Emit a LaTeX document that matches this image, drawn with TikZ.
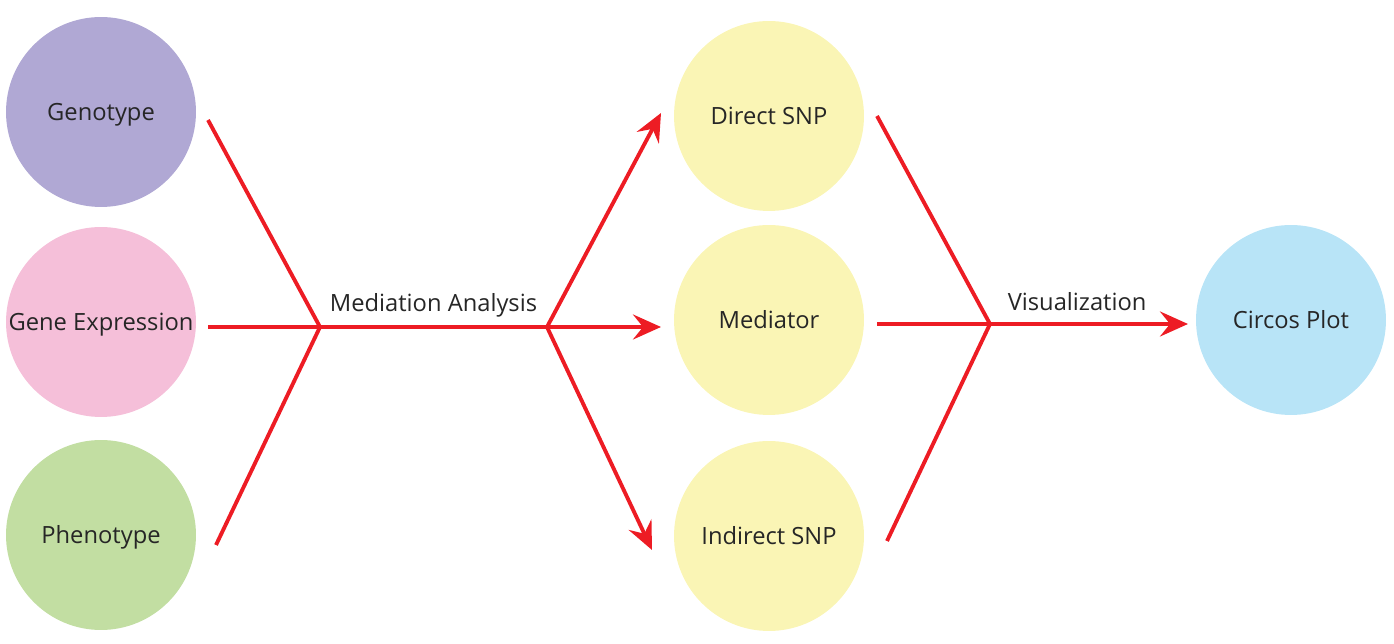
\documentclass[tikz,border=0pt]{standalone}
\usepackage{fontspec}
\setmainfont{Open Sans}
\usetikzlibrary{arrows.meta}

\definecolor{flowred}{HTML}{ED1C24}
\definecolor{genopurple}{HTML}{B0A8D4}
\definecolor{exprpink}{HTML}{F5BFD9}
\definecolor{phenogreen}{HTML}{C2DEA2}
\definecolor{snpyellow}{HTML}{FAF5B5}
\definecolor{circosblue}{HTML}{B8E4F7}

\tikzset{
  bubble/.style = {circle, draw=none, minimum size=3.8cm, inner sep=0pt,
    align=center, text=black!85, text height=2ex, text depth=0.1ex,
    font=\fontsize{13.5}{16}\selectfont},
  flow/.style = {draw=flowred, line width=2.2pt},
  flowarrow/.style = {flow, -{Stealth[length=0.56cm, width=0.5cm, inset=0.2cm]}},
  steplabel/.style = {text=black!85, font=\fontsize{13.5}{16}\selectfont}
}

\begin{document}
\begin{tikzpicture}[x=0.02cm, y=-0.02cm]
\useasboundingbox (0,0) rectangle (1394,644);

\node [bubble, fill=genopurple] (genotype) at (101,112) {Genotype};
\node [bubble, fill=exprpink] (expression) at (101,322) {Gene Expression};
\node [bubble, fill=phenogreen] (phenotype) at (101,535) {Phenotype};
\node [bubble, fill=snpyellow] (direct) at (769,116) {Direct SNP};
\node [bubble, fill=snpyellow] (mediator) at (769,320) {Mediator};
\node [bubble, fill=snpyellow] (indirect) at (769,536) {Indirect SNP};
\node [bubble, fill=circosblue] (circos) at (1291,320) {Circos Plot};

\coordinate (geno-out) at (208,120);
\coordinate (expr-out) at (208,327);
\coordinate (pheno-out) at (216,545);
\coordinate (merge) at (320,327);
\coordinate (split) at (547,327);
\coordinate (direct-in) at (661,113);
\coordinate (mediator-in) at (661,327);
\coordinate (indirect-in) at (652,550);

\coordinate (direct-out) at (877,116);
\coordinate (mediator-out) at (877,324);
\coordinate (indirect-out) at (887,541);
\coordinate (gather) at (990,324);
\coordinate (circos-in) at (1188,324);

\draw [flow] (geno-out) -- (merge);
\draw [flow] (expr-out) -- (merge);
\draw [flow] (pheno-out) -- (merge);
\draw [flow] (merge) -- node [steplabel, above=1pt] (mediation) {Mediation Analysis} (split);
\draw [flowarrow] (split) -- (direct-in);
\draw [flowarrow] (split) -- (mediator-in);
\draw [flowarrow] (split) -- (indirect-in);

\draw [flow] (direct-out) -- (gather);
\draw [flow] (mediator-out) -- (gather);
\draw [flow] (indirect-out) -- (gather);
\draw [flowarrow] (gather) -- node [steplabel, above=3pt, pos=0.44] (visual) {Visualization} (circos-in);
\end{tikzpicture}
\end{document}
